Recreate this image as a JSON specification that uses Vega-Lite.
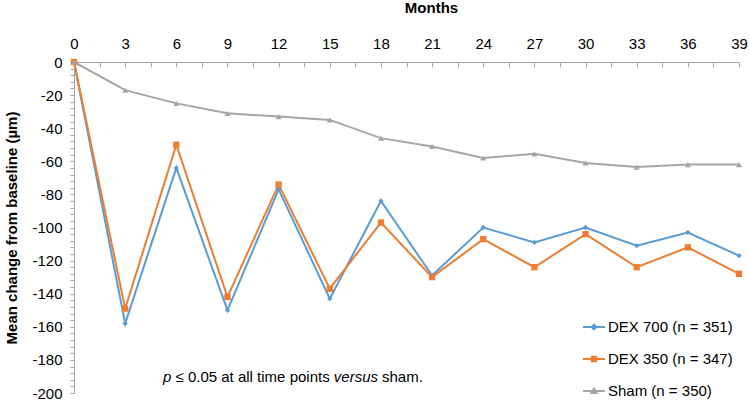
{
  "$schema": "https://vega.github.io/schema/vega-lite/v6.json",
  "width": 665,
  "height": 331,
  "autosize": {"type": "none"},
  "padding": {"left": 74, "top": 62, "right": 10, "bottom": 7},
  "background": "white",
  "config": {
    "view": {"stroke": null},
    "font": "Liberation Sans",
    "axis": {
      "grid": false,
      "domainColor": "#a6a6a6",
      "tickColor": "#a6a6a6",
      "labelColor": "#000000",
      "titleColor": "#000000",
      "labelFont": "Liberation Sans",
      "titleFont": "Liberation Sans",
      "labelFontSize": 15,
      "titleFontSize": 15,
      "titleFontWeight": "bold"
    },
    "text": {"fontSize": 15, "font": "Liberation Sans", "color": "#000000", "align": "left", "baseline": "middle"}
  },
  "datasets": {
    "series": [
      {"month": 0, "value": 0, "series": "DEX 700 (n = 351)"},
      {"month": 3, "value": -158, "series": "DEX 700 (n = 351)"},
      {"month": 6, "value": -64, "series": "DEX 700 (n = 351)"},
      {"month": 9, "value": -150, "series": "DEX 700 (n = 351)"},
      {"month": 12, "value": -77, "series": "DEX 700 (n = 351)"},
      {"month": 15, "value": -143, "series": "DEX 700 (n = 351)"},
      {"month": 18, "value": -84, "series": "DEX 700 (n = 351)"},
      {"month": 21, "value": -129, "series": "DEX 700 (n = 351)"},
      {"month": 24, "value": -100, "series": "DEX 700 (n = 351)"},
      {"month": 27, "value": -109, "series": "DEX 700 (n = 351)"},
      {"month": 30, "value": -100, "series": "DEX 700 (n = 351)"},
      {"month": 33, "value": -111, "series": "DEX 700 (n = 351)"},
      {"month": 36, "value": -103, "series": "DEX 700 (n = 351)"},
      {"month": 39, "value": -117, "series": "DEX 700 (n = 351)"},
      {"month": 0, "value": 0, "series": "DEX 350 (n = 347)"},
      {"month": 3, "value": -149, "series": "DEX 350 (n = 347)"},
      {"month": 6, "value": -50, "series": "DEX 350 (n = 347)"},
      {"month": 9, "value": -142, "series": "DEX 350 (n = 347)"},
      {"month": 12, "value": -74, "series": "DEX 350 (n = 347)"},
      {"month": 15, "value": -137, "series": "DEX 350 (n = 347)"},
      {"month": 18, "value": -97, "series": "DEX 350 (n = 347)"},
      {"month": 21, "value": -130, "series": "DEX 350 (n = 347)"},
      {"month": 24, "value": -107, "series": "DEX 350 (n = 347)"},
      {"month": 27, "value": -124, "series": "DEX 350 (n = 347)"},
      {"month": 30, "value": -104, "series": "DEX 350 (n = 347)"},
      {"month": 33, "value": -124, "series": "DEX 350 (n = 347)"},
      {"month": 36, "value": -112, "series": "DEX 350 (n = 347)"},
      {"month": 39, "value": -128, "series": "DEX 350 (n = 347)"},
      {"month": 0, "value": 0, "series": "Sham (n = 350)"},
      {"month": 3, "value": -17, "series": "Sham (n = 350)"},
      {"month": 6, "value": -25, "series": "Sham (n = 350)"},
      {"month": 9, "value": -31, "series": "Sham (n = 350)"},
      {"month": 12, "value": -33, "series": "Sham (n = 350)"},
      {"month": 15, "value": -35, "series": "Sham (n = 350)"},
      {"month": 18, "value": -46, "series": "Sham (n = 350)"},
      {"month": 21, "value": -51, "series": "Sham (n = 350)"},
      {"month": 24, "value": -58, "series": "Sham (n = 350)"},
      {"month": 27, "value": -55.5, "series": "Sham (n = 350)"},
      {"month": 30, "value": -61, "series": "Sham (n = 350)"},
      {"month": 33, "value": -63.5, "series": "Sham (n = 350)"},
      {"month": 36, "value": -62, "series": "Sham (n = 350)"},
      {"month": 39, "value": -62, "series": "Sham (n = 350)"}
    ],
    "note": [{"label": "note"}]
  },
  "layer": [
    {
      "data": {"name": "series"},
      "encoding": {
        "x": {
          "field": "month",
          "type": "quantitative",
          "scale": {"domain": [0, 39], "nice": false, "zero": false},
          "axis": {
            "orient": "top",
            "title": "Months",
            "titleX": 357,
            "titlePadding": 21,
            "values": [0,1.5,3,4.5,6,7.5,9,10.5,12,13.5,15,16.5,18,19.5,21,22.5,24,25.5,27,28.5,30,31.5,33,34.5,36,37.5,39],
            "labelExpr": "datum.value % 3 == 0 ? '' + datum.value : ''",
            "tickSize": -5,
            "labelPadding": 16,
            "labelFlush": false,
            "labelOverlap": false
          }
        },
        "y": {
          "field": "value",
          "type": "quantitative",
          "scale": {"domain": [-200, 0], "nice": false, "zero": false},
          "axis": {
            "title": "Mean change from baseline (µm)",
            "titlePadding": 12,
            "values": [0,-4,-8,-12,-16,-20,-24,-28,-32,-36,-40,-44,-48,-52,-56,-60,-64,-68,-72,-76,-80,-84,-88,-92,-96,-100,-104,-108,-112,-116,-120,-124,-128,-132,-136,-140,-144,-148,-152,-156,-160,-164,-168,-172,-176,-180,-184,-188,-192,-196,-200],
            "labelExpr": "datum.value % 20 == 0 ? '' + datum.value : ''",
            "tickSize": 4,
            "labelPadding": 8,
            "labelOverlap": false
          }
        },
        "color": {
          "field": "series",
          "type": "nominal",
          "scale": {
            "domain": ["DEX 700 (n = 351)", "DEX 350 (n = 347)", "Sham (n = 350)"],
            "range": ["#5B9BD5", "#ED7D31", "#A5A5A5"]
          },
          "legend": {
            "orient": "none",
            "legendX": 508,
            "legendY": 253,
            "title": null,
            "padding": 0,
            "symbolType": "stroke",
            "symbolSize": 484,
            "symbolStrokeWidth": 2,
            "labelFontSize": 15,
            "labelFont": "Liberation Sans",
            "labelColor": "#000000",
            "labelOffset": 2,
            "rowPadding": 12,
            "encode": {
              "symbols": {
                "update": {
                  "shape": {"signal": "datum.value == 'DEX 700 (n = 351)' ? 'M-1,0H1M0,-0.22L0.22,0L0,0.22L-0.22,0Z' : datum.value == 'DEX 350 (n = 347)' ? 'M-1,0H1M-0.2,-0.2H0.2V0.2H-0.2Z' : 'M-1,0H1M0,-0.22L0.22,0.18L-0.22,0.18Z'"},
                  "fill": {"signal": "scale('color', datum.value)"}
                }
              }
            }
          }
        }
      },
      "layer": [
        {"mark": {"type": "line", "strokeWidth": 2}},
        {
          "transform": [{"filter": "datum.series == 'DEX 700 (n = 351)'"}],
          "mark": {"type": "point", "filled": true, "opacity": 1, "shape": "diamond", "size": 28}
        },
        {
          "transform": [{"filter": "datum.series == 'DEX 350 (n = 347)'"}],
          "mark": {"type": "point", "filled": true, "opacity": 1, "shape": "square", "size": 40}
        },
        {
          "transform": [{"filter": "datum.series == 'Sham (n = 350)'"}],
          "mark": {"type": "point", "filled": true, "opacity": 1, "shape": "triangle-up", "size": 36}
        }
      ]
    },
    {
      "data": {"name": "note"},
      "encoding": {
        "x": {
          "datum": 5.22,
          "type": "quantitative",
          "axis": {
            "orient": "top",
            "title": "Months",
            "titleX": 357,
            "titlePadding": 21,
            "values": [0,1.5,3,4.5,6,7.5,9,10.5,12,13.5,15,16.5,18,19.5,21,22.5,24,25.5,27,28.5,30,31.5,33,34.5,36,37.5,39],
            "labelExpr": "datum.value % 3 == 0 ? '' + datum.value : ''",
            "tickSize": -5,
            "labelPadding": 16,
            "labelFlush": false,
            "labelOverlap": false
          }
        },
        "y": {
          "datum": -190.3,
          "type": "quantitative",
          "axis": {
            "title": "Mean change from baseline (µm)",
            "titlePadding": 12,
            "values": [0,-4,-8,-12,-16,-20,-24,-28,-32,-36,-40,-44,-48,-52,-56,-60,-64,-68,-72,-76,-80,-84,-88,-92,-96,-100,-104,-108,-112,-116,-120,-124,-128,-132,-136,-140,-144,-148,-152,-156,-160,-164,-168,-172,-176,-180,-184,-188,-192,-196,-200],
            "labelExpr": "datum.value % 20 == 0 ? '' + datum.value : ''",
            "tickSize": 4,
            "labelPadding": 8,
            "labelOverlap": false
          }
        }
      },
      "layer": [
        {"mark": {"type": "text", "text": "p", "fontStyle": "italic"}},
        {"mark": {"type": "text", "text": "≤ 0.05 at all time points", "dx": 12.5}},
        {"mark": {"type": "text", "text": "versus", "fontStyle": "italic", "dx": 170.8}},
        {"mark": {"type": "text", "text": "sham.", "dx": 219}}
      ]
    }
  ]
}
